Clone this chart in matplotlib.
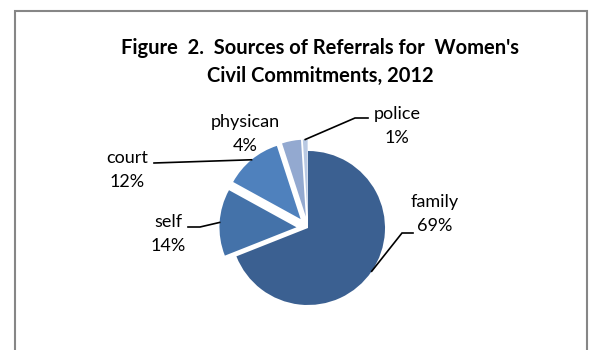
import numpy as np
import matplotlib.pyplot as plt
from matplotlib.patches import Rectangle

# data
sources = ['family', 'self', 'court', 'physican', 'police']
shares = [69, 14, 12, 4, 1]
colors = ['#3b6091', '#4472a9', '#4f81bd', '#93a9d0', '#b9c9e3']
explode_frac = [0, 0.15, 0.15, 0.15, 0.15]

W, H = 590, 350
R = 77
plt.rcParams['font.family'] = ['Lato', 'DejaVu Sans']

fig = plt.figure(figsize=(W / 100, H / 100), dpi=100)
ax = fig.add_axes([0, 0, 1, 1])

def py(y):
    # pixel row (from top) -> data y
    return H - y

# matplotlib's explode is in data units, so scale by the radius
wedges, _ = ax.pie(shares, explode=[e * R for e in explode_frac],
                   colors=colors, startangle=90, counterclock=False,
                   center=(308, py(228)), radius=R,
                   wedgeprops=dict(linewidth=0))
ax.set_xlim(0, W)
ax.set_ylim(0, H)
ax.set_aspect('equal')
ax.axis('off')

# label centres and leader line bends (pixels)
label_pos = {'family': (435, 214), 'self': (168, 234), 'court': (127, 170),
             'physican': (245, 134), 'police': (397, 126)}
leaders = {'family': [(402, 233), (413, 233)],
           'self': [(200, 227), (188, 227)],
           'court': [(154, 163)],
           'police': [(355, 118), (368, 118)]}

for w, name, val in zip(wedges, sources, shares):
    x, y = label_pos[name]
    ax.text(x, py(y), f'{name}\n{val}%', ha='center', va='center',
            fontsize=13, linespacing=1.6, color='black')
    if name in leaders:
        mid = np.deg2rad((w.theta1 + w.theta2) / 2)
        ax0 = w.center[0] + w.r * np.cos(mid)
        ay0 = w.center[1] + w.r * np.sin(mid)
        xs = [ax0] + [p[0] for p in leaders[name]]
        ys = [ay0] + [py(p[1]) for p in leaders[name]]
        ax.plot(xs, ys, color='black', lw=1.2, solid_joinstyle='miter')

fig.text(320 / W, 1 - 62 / H,
         "Figure  2.  Sources of Referrals for  Women's\nCivil Commitments, 2012",
         ha='center', va='center', fontsize=14.5, fontweight='bold',
         linespacing=1.5)

fig.add_artist(Rectangle((15 / W, -0.1), (587 - 15) / W, 1.1 - 11 / H,
                         transform=fig.transFigure, fill=False,
                         edgecolor='#868686', linewidth=1.5))

fig.savefig('out.png', dpi=100)
